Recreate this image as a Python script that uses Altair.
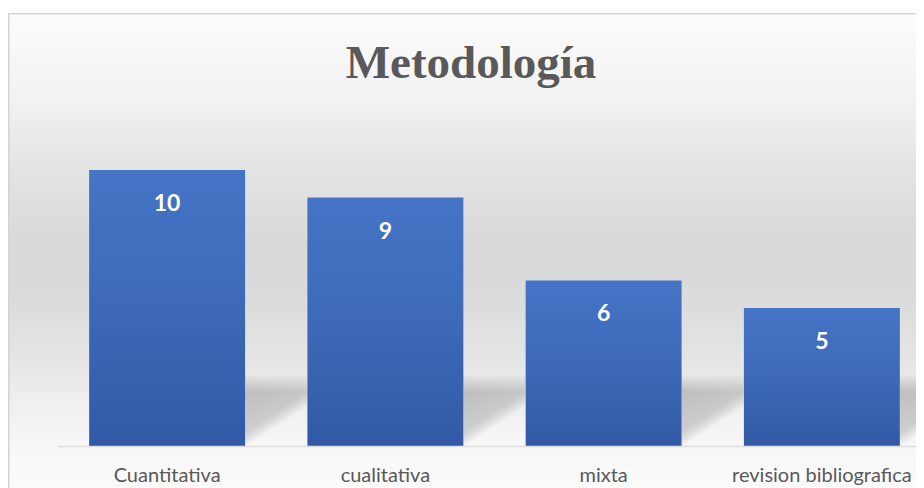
import altair as alt
import pandas as pd

# ---- data ----
categories = ["Cuantitativa", "cualitativa", "mixta", "revision bibliografica"]
values = [10, 9, 6, 5]
title_text = "Metodología"

df = pd.DataFrame({"metodo": categories, "n": values})

W, H = 908, 438
PAD_BOTTOM = 42

x_enc = alt.X(
    "metodo:N",
    sort=categories,
    scale=alt.Scale(range=[50, 923], paddingInner=0.2855, paddingOuter=0.14275),
    axis=alt.Axis(
        title=None, labelAngle=0, ticks=False, tickSize=0, grid=False,
        domain=True, domainColor="#dedede", domainWidth=1.5,
        labelFont="Lato", labelFontSize=20, labelColor="#595959",
        labelBaseline="alphabetic", labelPadding=35, labelLimit=400,
        zindex=1,
    ),
)
y_scale = alt.Scale(domain=[0, 15.87], nice=False)

one = alt.Data(values=[{}])

bg_grad = alt.Gradient(
    gradient="linear", x1=0, y1=0, x2=0, y2=1,
    stops=[
        alt.GradientStop(color="#fcfcfc", offset=0),
        alt.GradientStop(color="#f2f2f2", offset=0.18),
        alt.GradientStop(color="#e5e5e5", offset=0.31),
        alt.GradientStop(color="#d9d9d9", offset=0.48),
        alt.GradientStop(color="#dadada", offset=0.58),
        alt.GradientStop(color="#e3e3e3", offset=0.71),
        alt.GradientStop(color="#eeeeee", offset=0.81),
        alt.GradientStop(color="#f7f7f7", offset=0.91),
        alt.GradientStop(color="#fbfbfb", offset=1),
    ],
)
background = alt.Chart(one).mark_rect(color=bg_grad).encode(
    x=alt.value(0), x2=alt.value(W), y=alt.value(6), y2=alt.value(H + PAD_BOTTOM)
)
border_left = alt.Chart(one).mark_rule(color="#d4d4d4", strokeWidth=1.5).encode(
    x=alt.value(0.75), y=alt.value(5.5), y2=alt.value(H + PAD_BOTTOM)
)
border_top = alt.Chart(one).mark_rule(color="#d4d4d4", strokeWidth=1.5).encode(
    x=alt.value(0), x2=alt.value(W), y=alt.value(5.75)
)

shadow_grad = alt.Gradient(
    gradient="linear", x1=0, y1=0, x2=0.57, y2=1,
    stops=[
        alt.GradientStop(color="rgba(0,0,0,0.21)", offset=0),
        alt.GradientStop(color="rgba(0,0,0,0.16)", offset=0.6),
        alt.GradientStop(color="rgba(0,0,0,0.08)", offset=0.7),
        alt.GradientStop(color="rgba(0,0,0,0)", offset=0.77),
        alt.GradientStop(color="rgba(0,0,0,0)", offset=1),
    ],
)
shadow = alt.Chart(df).mark_bar(color=shadow_grad, width=62, xOffset=109).encode(
    x=x_enc,
    y=alt.Y(datum=2.57, scale=y_scale, axis=None),
    y2=alt.Y2(datum=0),
)
fade_grad = alt.Gradient(
    gradient="linear", x1=0, y1=0, x2=0, y2=1,
    stops=[
        alt.GradientStop(color="rgba(233,233,233,1)", offset=0),
        alt.GradientStop(color="rgba(233,233,233,0)", offset=1),
    ],
)
fade = alt.Chart(df).mark_bar(color=fade_grad, width=62, xOffset=109).encode(
    x=x_enc,
    y=alt.Y(datum=2.6, scale=y_scale, axis=None),
    y2=alt.Y2(datum=1.95),
)

bar_grad = alt.Gradient(
    gradient="linear", x1=0, y1=0, x2=0, y2=1,
    stops=[
        alt.GradientStop(color="#4574c6", offset=0),
        alt.GradientStop(color="#3d69b8", offset=0.5),
        alt.GradientStop(color="#3259a5", offset=1),
    ],
)
bars = alt.Chart(df).mark_bar(color=bar_grad).encode(
    x=x_enc,
    y=alt.Y("n:Q", scale=y_scale, axis=None),
)
labels = alt.Chart(df).mark_text(
    dy=41, baseline="alphabetic", align="center", color="white",
    font="Lato", fontSize=23, fontWeight="bold",
).encode(
    x=x_enc,
    y=alt.Y("n:Q", scale=y_scale, axis=None),
    text="n:Q",
)
title = alt.Chart(one).mark_text(
    font="Liberation Serif", fontSize=47, fontWeight="bold", color="#595959",
    align="center", baseline="alphabetic",
).encode(x=alt.value(463), y=alt.value(70), text=alt.value(title_text))

chart = alt.layer(
    background, border_left, border_top, shadow, fade, bars, labels, title
).properties(
    width=W, height=H,
    autosize=alt.AutoSizeParams(type="none"),
    padding={"left": 0, "top": 0, "right": 0, "bottom": PAD_BOTTOM},
    background="white",
).configure_view(stroke=None)

chart.save("out.html", embed_options={"renderer": "svg", "actions": False})
